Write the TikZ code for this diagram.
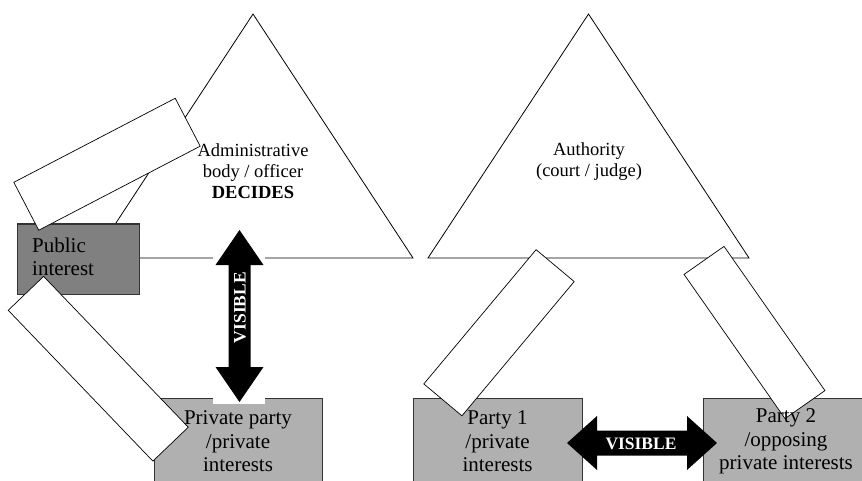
\documentclass[tikz,border=0pt]{standalone}
\usepackage{fontspec}
\setmainfont{Liberation Serif}
\begin{document}
\begin{tikzpicture}[x=1pt,y=-1pt,
  tri/.style={draw=black, line width=0.8pt, fill=white, line join=miter},
  pubbox/.style={draw=black!80, line width=1.1pt, fill=black!50, inner sep=0pt, anchor=north west},
  privbox/.style={draw=black!80, line width=1.1pt, fill=black!31, inner sep=0pt, anchor=north west},
  blank/.style={draw=black, line width=0.7pt, fill=white, inner sep=0pt, outer sep=0pt},
  bigarrow/.style={fill=black, draw=none},
  gapbox/.style={fill=white, draw=none, inner sep=0pt},
  tritext/.style={font=\fontsize{18.5}{21}\selectfont, align=center, inner sep=0pt},
  boxtext/.style={font=\fontsize{21}{23.5}\selectfont, align=center, inner sep=0pt},
  vistext/.style={font=\fontsize{17.5}{18}\selectfont\bfseries, text=white, inner sep=0pt},
]
\clip (0,0) rectangle (862,481);
\fill[white] (0,0) rectangle (862,481);
% triangles
\draw[tri] (253,14) -- (413,258) -- (93,258) -- cycle;
\draw[tri] (588.5,14) -- (749,258) -- (428,258) -- cycle;
% boxes
\node[pubbox, minimum width=121.5pt, minimum height=70pt] (pub) at (17,223.5) {};
\node[privbox, minimum width=168pt, minimum height=95pt] (priv) at (154,398) {};
\node[privbox, minimum width=169pt, minimum height=95pt] (p1) at (413,398) {};
\node[privbox, minimum width=175pt, minimum height=95pt] (p2) at (703,398) {};
% blank rotated rectangles
\node[blank, minimum width=182pt, minimum height=54pt, rotate=27.5] (r1) at (107,164.25) {};
\node[blank, minimum width=209pt, minimum height=49pt, rotate=-46.2] (r2) at (98.25,368.75) {};
\node[blank, minimum width=175pt, minimum height=49.7pt, rotate=50.1] (r3) at (499,332.75) {};
\node[blank, minimum width=176pt, minimum height=48.8pt, rotate=-55] (r4) at (754.5,332.5) {};
% white gaps behind the vertical arrow
\node[gapbox, minimum width=52pt, minimum height=9pt] (gap1) at (239,258) {};
\node[gapbox, minimum width=52pt, minimum height=6pt] (gap2) at (239,400.5) {};
% arrows
\fill[bigarrow] (239.5,230) -- (263.5,265) -- (250.5,265) -- (250.5,367) -- (263.5,367)
  -- (239.5,402) -- (215.5,367) -- (228.5,367) -- (228.5,265) -- (215.5,265) -- cycle;
\fill[bigarrow] (567,443) -- (597,416) -- (597,430.5) -- (687,430.5) -- (687,416)
  -- (717,443) -- (687,470) -- (687,455.5) -- (597,455.5) -- (597,470) -- cycle;
% texts
\node[tritext] (admin) at (253,170.7) {Administrative\\body / officer\\\textbf{DECIDES}};
\node[tritext] (auth) at (589,161.7) {Authority\\(court / judge)};
\node[boxtext, font=\fontsize{21}{23}\selectfont, align=left, anchor=north west] (pubt) at (32,237.7) {Public\\interest};
\node[boxtext] (privt) at (238,441.4) {Private party\\/private\\interests};
\node[boxtext] (p1t) at (497.5,441.4) {Party 1\\/private\\interests};
\node[boxtext] (p2t) at (786,441.4) {Party 2\\/opposing\\private interests};
\node[vistext, rotate=90] (vis1) at (240,307.5) {VISIBLE};
\node[vistext] (vis2) at (641,444) {VISIBLE};
\end{tikzpicture}
\end{document}
